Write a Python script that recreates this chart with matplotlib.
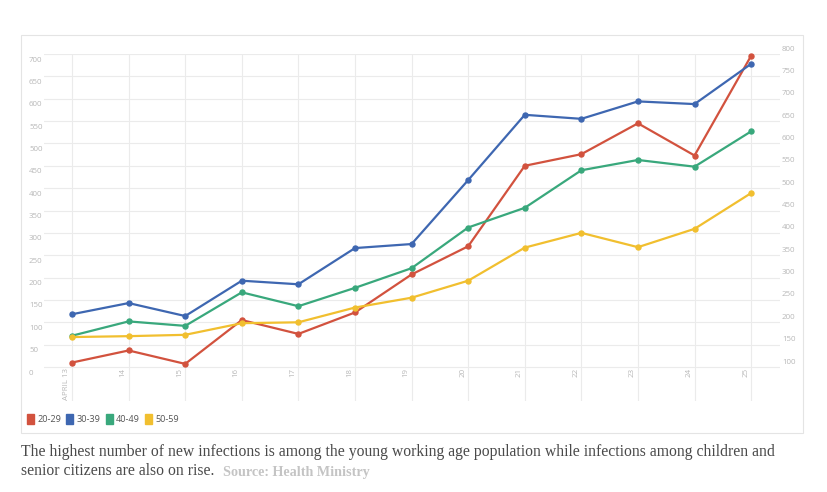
import numpy as np
import matplotlib.pyplot as plt
import matplotlib.transforms as mtransforms
from matplotlib.patches import Rectangle, Patch

# daily new infections by age group (Health Ministry)
days = ["APRIL 13", "14", "15", "16", "17", "18", "19",
        "20", "21", "22", "23", "24", "25"]
age_groups = ["20-29", "30-39", "40-49", "50-59"]
cases_20_29 = [10, 37, 7, 105, 74, 122, 207, 270, 450, 476, 545, 473, 696]
cases_30_39 = [118, 143, 114, 193, 185, 266, 275, 418, 564, 555, 594, 588, 678]
cases_40_49 = [70, 102, 92, 167, 136, 177, 221, 312, 356, 440, 463, 448, 527]
cases_50_59 = [67, 69, 72, 98, 100, 133, 155, 193, 267, 300, 268, 309, 389]
left_ticks = list(range(0, 701, 50))
right_ticks = list(range(100, 801, 50))

colors = ["#d2523e", "#3e67b1", "#39a87c", "#f1bf2f"]
series = [cases_20_29, cases_30_39, cases_40_49, cases_50_59]

W, H = 828, 492
fig = plt.figure(figsize=(W / 100, H / 100), dpi=100)

# light card around the chart
fig.patches.append(Rectangle((21 / W, 1 - 433 / H), (803 - 21) / W, (433 - 35) / H,
                             transform=fig.transFigure, fc="white", ec="#e4e4e4",
                             lw=0.8, zorder=-10))

ax = fig.add_axes([44 / W, 1 - 401 / H, (780 - 44) / W, (401 - 54) / H])
ax.set_facecolor("none")
ax.set_xlim(-0.495, 12.51)
ax.set_ylim(-76, 700)
ax.set_xticks(range(len(days)))
ax.set_yticks(left_ticks)
ax.tick_params(length=0, labelleft=False, labelbottom=False)
ax.grid(color="#ebebeb", lw=0.8)
ax.set_axisbelow(True)
for s in ax.spines.values():
    s.set_visible(False)

ax2 = ax.twinx()
ax2.set_ylim(24, 800)
ax2.set_yticks([])
for s in ax2.spines.values():
    s.set_visible(False)

x = np.arange(len(days))
for vals, c in zip(series, colors):
    ax.plot(x, vals, color=c, lw=1.6, marker="o", ms=3.6, clip_on=False, zorder=3)

tick_font = dict(family="Open Sans", fontsize=5.7, color="#b8b8b8")

# left labels sit just under their gridline
tl = mtransforms.blended_transform_factory(fig.transFigure, ax.transData)
tl = mtransforms.offset_copy(tl, fig=fig, x=0, y=-6, units="dots")
for v in left_ticks:
    ax.text(29 / W, v, str(v), transform=tl, ha="left", va="center", **tick_font)

# right labels sit just above their gridline
tr = mtransforms.blended_transform_factory(fig.transFigure, ax2.transData)
tr = mtransforms.offset_copy(tr, fig=fig, x=0, y=5, units="dots")
for v in right_ticks:
    ax2.text(782 / W, v, str(v), transform=tr, ha="left", va="center", **tick_font)

tx = mtransforms.offset_copy(ax.transData, fig=fig, x=-5.5, y=-1, units="dots")
for i, d in enumerate(days):
    ax.text(i, 0, d, transform=tx, rotation=90, ha="center", va="top", **tick_font)

handles = [Patch(fc=c, ec=c) for c in colors]
leg = fig.legend(handles, age_groups, loc="center left", bbox_to_anchor=(27 / W, 1 - 419 / H),
                 ncol=4, frameon=False, handlelength=0.75, handleheight=1.3,
                 handletextpad=0.35, columnspacing=0.6, borderaxespad=0, borderpad=0,
                 prop=dict(family="Open Sans", size=6.6))
for t in leg.get_texts():
    t.set_color("#555555")

cap = dict(family="Liberation Serif", fontsize=11.3, color="#4a4a4a", va="center")
fig.text(21 / W, 1 - 452 / H,
         "The highest number of new infections is among the young working age population "
         "while infections among children and", **cap)
t2 = fig.text(21 / W, 1 - 471 / H, "senior citizens are also on rise.", **cap)
ax.annotate("Source: Health Ministry", xy=(1, 0), xycoords=t2, xytext=(6, 0),
            textcoords="offset points", va="bottom", ha="left",
            family="Liberation Serif", fontsize=10.2, fontweight="bold", color="#c4c4c4",
            annotation_clip=False)

fig.savefig("out.png", dpi=100)
